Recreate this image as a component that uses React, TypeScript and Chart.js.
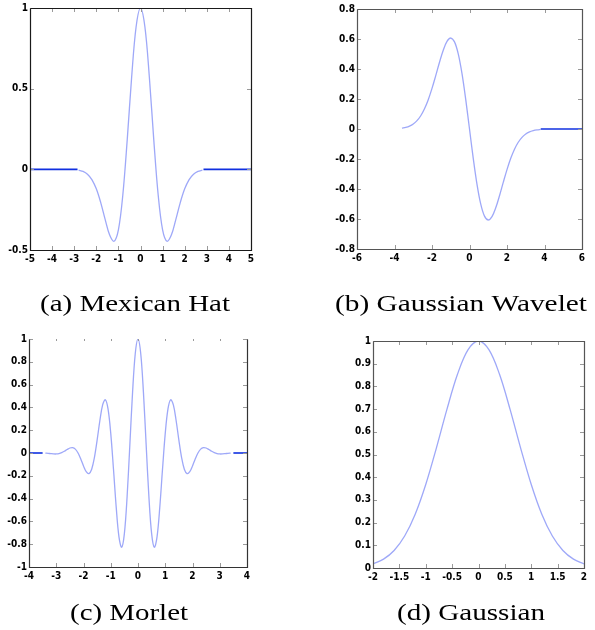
import React, { useEffect, useRef } from "react";
import { Chart, registerables } from "chart.js";
Chart.register(...registerables);

// (a) Mexican Hat
const MH_X = [-2.8,-2.6,-2.4,-2.2,-2.0,-1.8,-1.6,-1.4,-1.2,-1.0,-0.8,-0.6,-0.4,-0.2,0,0.2,0.4,0.6,0.8,1.0,1.2,1.4,1.6,1.8,2.0,2.2,2.4,2.6,2.8];
const MH_Y = [-0.005,-0.0129,-0.0301,-0.0636,-0.121,-0.206,-0.31,-0.406,-0.446,-0.375,-0.159,0.184,0.572,0.882,1,0.882,0.572,0.184,-0.159,-0.375,-0.446,-0.406,-0.31,-0.206,-0.121,-0.0636,-0.0301,-0.0129,-0.005];
const MH_FLAT_X = [[-5, -2.85], [2.85, 5]];

// (b) Gaussian Wavelet
const GW_X = [-3.6,-3.4,-3.2,-3.0,-2.8,-2.6,-2.4,-2.2,-2.0,-1.8,-1.6,-1.4,-1.2,-1.0,-0.8,-0.6,-0.4,-0.2,0,0.2,0.4,0.6,0.8,1.0,1.2,1.4,1.6,1.8,2.0,2.2,2.4,2.6,2.8,3.0,3.2,3.4,3.6,3.8];
const GW_Y = [0.0055,0.0105,0.0191,0.0333,0.0556,0.0885,0.1347,0.1956,0.2707,0.3562,0.4448,0.5254,0.5841,0.6065,0.5809,0.5012,0.3692,0.196,0,-0.196,-0.3692,-0.5012,-0.5809,-0.6065,-0.5841,-0.5254,-0.4448,-0.3562,-0.2707,-0.1956,-0.1347,-0.0885,-0.0556,-0.0333,-0.0191,-0.0105,-0.0055,-0.0028];
const GW_FLAT_X = [[3.8, 6]];

// (c) Morlet
const MO_X = [-3.4,-3.3,-3.2,-3.1,-3.0,-2.9,-2.8,-2.7,-2.6,-2.5,-2.4,-2.3,-2.2,-2.1,-2.0,-1.9,-1.8,-1.7,-1.6,-1.5,-1.4,-1.3,-1.2,-1.1,-1.0,-0.9,-0.8,-0.7,-0.6,-0.5,-0.4,-0.3,-0.2,-0.1,0,0.1,0.2,0.3,0.4,0.5,0.6,0.7,0.8,0.9,1.0,1.1,1.2,1.3,1.4,1.5,1.6,1.7,1.8,1.9,2.0,2.1,2.2,2.3,2.4,2.5,2.6,2.7,2.8,2.9,3.0,3.1,3.2,3.3,3.4];
const MO_Y = [-0.0008,-0.003,-0.0057,-0.008,-0.0084,-0.0053,0.0027,0.0155,0.0309,0.0438,0.0474,0.0343,0.0004,-0.0524,-0.1136,-0.164,-0.1803,-0.1419,-0.0404,0.1125,0.2829,0.4195,0.4674,0.387,0.1721,-0.1406,-0.4746,-0.733,-0.8269,-0.707,-0.3841,0.0676,0.5296,0.8732,1,0.8732,0.5296,0.0676,-0.3841,-0.707,-0.8269,-0.733,-0.4746,-0.1406,0.1721,0.387,0.4674,0.4195,0.2829,0.1125,-0.0404,-0.1419,-0.1803,-0.164,-0.1136,-0.0524,0.0004,0.0343,0.0474,0.0438,0.0309,0.0155,0.0027,-0.0053,-0.0084,-0.008,-0.0057,-0.003,-0.0008];
const MO_FLAT_X = [[-4, -3.5], [3.5, 4]];

// (d) Gaussian
const GA_X = [-2.0,-1.8,-1.6,-1.4,-1.2,-1.0,-0.8,-0.6,-0.4,-0.2,0,0.2,0.4,0.6,0.8,1.0,1.2,1.4,1.6,1.8,2.0];
const GA_Y = [0.0183,0.0392,0.0773,0.1409,0.2369,0.3679,0.5273,0.6977,0.8521,0.9608,1,0.9608,0.8521,0.6977,0.5273,0.3679,0.2369,0.1409,0.0773,0.0392,0.0183];
const GA_FLAT_X: number[][] = [];

const CAPTIONS = ["(a) Mexican Hat", "(b) Gaussian Wavelet", "(c) Morlet", "(d) Gaussian"];

const LIGHT = "rgba(120,135,245,0.72)";
const DARK = "#1030e0";

const frame = {
  id: "frame",
  afterDraw(chart: any, _args: any, opts: any) {
    const { ctx, chartArea: a, scales } = chart;
    ctx.save();
    ctx.strokeStyle = "#9a9a9a";
    ctx.lineWidth = 1;
    const L = 4;
    scales.x.ticks.forEach((t: any) => {
      const px = Math.round(scales.x.getPixelForValue(t.value)) + 0.5;
      ctx.beginPath();
      ctx.moveTo(px, a.bottom); ctx.lineTo(px, a.bottom - L);
      ctx.moveTo(px, a.top); ctx.lineTo(px, a.top + (opts.noTop ? 2 : L));
      ctx.stroke();
    });
    scales.y.ticks.forEach((t: any) => {
      const py = Math.round(scales.y.getPixelForValue(t.value)) + 0.5;
      ctx.beginPath();
      ctx.moveTo(a.left, py); ctx.lineTo(a.left + L, py);
      ctx.moveTo(a.right, py); ctx.lineTo(a.right - L, py);
      ctx.stroke();
    });
    const l = Math.round(a.left) + 0.5, r = Math.round(a.right) + 0.5;
    const t = Math.round(a.top) + 0.5, b = Math.round(a.bottom) + 0.5;
    ctx.strokeStyle = opts.color || "#222";
    ctx.lineWidth = 1.2;
    ctx.beginPath();
    ctx.moveTo(l, t); ctx.lineTo(l, b); ctx.lineTo(r, b); ctx.lineTo(r, t);
    if (!opts.noTop) ctx.lineTo(l, t);
    ctx.stroke();
    ctx.restore();
  },
};

type Panel = {
  left: number; top: number; w: number; h: number;
  area: { l: number; r: number; t: number; b: number };
  xs: number[]; ys: number[]; flat: number[][];
  xmin: number; xmax: number; xstep: number;
  ymin: number; ymax: number; ystep: number;
  noTop?: boolean; frameColor: string;
};

const PANELS: Panel[] = [
  { left: 0, top: 0, w: 300, h: 280, area: { l: 30, r: 251, t: 8, b: 250 }, xs: MH_X, ys: MH_Y, flat: MH_FLAT_X, xmin: -5, xmax: 5, xstep: 1, ymin: -0.5, ymax: 1, ystep: 0.5, frameColor: "#1a1a1a" },
  { left: 300, top: 0, w: 295, h: 280, area: { l: 357, r: 582, t: 9, b: 249 }, xs: GW_X, ys: GW_Y, flat: GW_FLAT_X, xmin: -6, xmax: 6, xstep: 2, ymin: -0.8, ymax: 0.8, ystep: 0.2, frameColor: "#555" },
  { left: 0, top: 320, w: 300, h: 270, area: { l: 29, r: 247, t: 339, b: 567 }, xs: MO_X, ys: MO_Y, flat: MO_FLAT_X, xmin: -4, xmax: 4, xstep: 1, ymin: -1, ymax: 1, ystep: 0.2, noTop: true, frameColor: "#333" },
  { left: 300, top: 320, w: 295, h: 270, area: { l: 373, r: 584, t: 341, b: 568 }, xs: GA_X, ys: GA_Y, flat: GA_FLAT_X, xmin: -2, xmax: 2, xstep: 0.5, ymin: 0, ymax: 1, ystep: 0.1, frameColor: "#555" },
];

const tickFont = { family: "'Liberation Sans Narrow', 'DejaVu Sans Condensed', 'Liberation Sans', sans-serif", size: 10, weight: "bold" as const };
const fmt = (v: any) => String(parseFloat(Number(v).toFixed(2)));

function PanelChart({ p }: { p: Panel }) {
  const ref = useRef<HTMLCanvasElement>(null);
  useEffect(() => {
    const YW = 30, XH = 20;
    const localL = p.area.l - p.left;
    const localR = p.area.r - p.left;
    const localT = p.area.t - p.top;
    const localB = p.area.b - p.top;
    const datasets: any[] = [
      {
        data: p.xs.map((x, i) => ({ x, y: p.ys[i] })),
        borderColor: LIGHT, borderWidth: 1.3, pointRadius: 0, showLine: true, tension: 0.35, fill: false,
      },
      ...p.flat.map((seg) => ({
        data: seg.map((x) => ({ x, y: 0 })),
        borderColor: DARK, borderWidth: 1.6, pointRadius: 0, showLine: true, fill: false,
      })),
    ];
    const chart = new Chart(ref.current!, {
      type: "scatter",
      data: { datasets },
      options: {
        animation: false,
        responsive: false,
        layout: { padding: { left: localL - YW, right: p.w - localR, top: localT, bottom: p.h - localB - XH } },
        plugins: { legend: { display: false }, tooltip: { enabled: false }, frame: { noTop: !!p.noTop, color: p.frameColor } },
        scales: {
          x: {
            type: "linear", min: p.xmin, max: p.xmax,
            ticks: { stepSize: p.xstep, font: tickFont, color: "#000", padding: 3, maxRotation: 0, autoSkip: false, callback: fmt },
            grid: { display: false, drawTicks: false }, border: { display: false },
            afterFit: (s: any) => { s.height = XH; },
          },
          y: {
            type: "linear", min: p.ymin, max: p.ymax,
            ticks: { stepSize: p.ystep, font: tickFont, color: "#000", padding: 2, autoSkip: false, callback: fmt },
            grid: { display: false, drawTicks: false }, border: { display: false },
            afterFit: (s: any) => { s.width = YW; },
          },
        },
      } as any,
      plugins: [frame],
    });
    return () => chart.destroy();
  }, [p]);
  return (
    <canvas ref={ref} width={p.w} height={p.h}
      style={{ position: "absolute", left: p.left, top: p.top, width: p.w, height: p.h }} />
  );
}

// caption left edge, baseline and target width
const CAP_POS = [
  { x: 40, base: 311, w: 190 },
  { x: 335, base: 311, w: 252 },
  { x: 70, base: 620, w: 118 },
  { x: 397, base: 620, w: 148 },
];

function Captions() {
  const ref = useRef<HTMLCanvasElement>(null);
  useEffect(() => {
    const ctx = ref.current!.getContext("2d")!;
    ctx.clearRect(0, 0, 595, 630);
    ctx.fillStyle = "#000";
    ctx.font = "23px 'Liberation Serif', 'Times New Roman', serif";
    ctx.textBaseline = "alphabetic";
    CAPTIONS.forEach((c, i) => {
      const m = ctx.measureText(c).width;
      const sx = CAP_POS[i].w / m;
      ctx.save();
      ctx.translate(CAP_POS[i].x, CAP_POS[i].base);
      ctx.scale(sx, 1);
      ctx.fillText(c, 0, 0);
      ctx.restore();
    });
  }, []);
  return <canvas ref={ref} width={595} height={630}
    style={{ position: "absolute", left: 0, top: 0, width: 595, height: 630, pointerEvents: "none" }} />;
}

export default function App() {
  return (
    <div style={{ position: "absolute", left: 0, top: 0, width: 595, height: 630, background: "#fff", overflow: "hidden" }}>
      {PANELS.map((p, i) => <PanelChart key={i} p={p} />)}
      <Captions />
    </div>
  );
}
